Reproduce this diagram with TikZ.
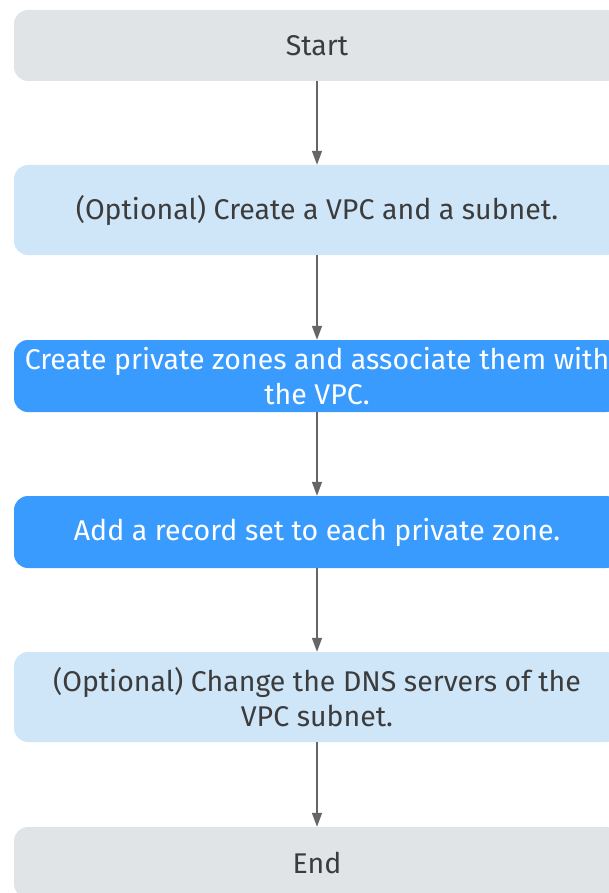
\documentclass[tikz,border=0pt]{standalone}
\usepackage{fontspec}
\setmainfont{Fira Sans}
\usetikzlibrary{arrows.meta}
\definecolor{grayfill}{HTML}{E1E4E6}
\definecolor{lightblue}{HTML}{CFE5F8}
\definecolor{bluefill}{HTML}{3A9BFF}
\definecolor{txt}{HTML}{3C3C3C}
\definecolor{arrowc}{HTML}{666666}
\tikzset{
  flowbox/.style={rounded corners=14pt, minimum width=606pt, inner sep=0pt, align=center,
    font=\fontsize{28.5}{35}\selectfont},
  graybox/.style={flowbox, fill=grayfill, text=txt},
  lbbox/.style={flowbox, fill=lightblue, text=txt},
  bbox/.style={flowbox, fill=bluefill, text=white},
  arr/.style={draw=arrowc, line width=1.5pt, -{Triangle[length=14pt,width=10pt]}}
}
\begin{document}
\begin{tikzpicture}[x=1pt,y=-1pt]
\useasboundingbox (0,0) rectangle (609,893);
\clip (0,0) rectangle (609,893);
\node[graybox, minimum height=71pt] (start) at (317,45.5) {Start};
\node[lbbox, minimum height=90pt] (vpc) at (317,210) {(Optional) Create a VPC and a subnet.};
\node[bbox, minimum height=72pt] (zone) at (317,376) {Create private zones and associate them with\\the VPC.};
\node[bbox, minimum height=72pt] (rec) at (317,532) {Add a record set to each private zone.};
\node[lbbox, minimum height=90pt] (dns) at (317,697) {(Optional) Change the DNS servers of the\\VPC subnet.};
\node[graybox, minimum height=71pt] (end) at (317,862.5) {End};
\draw[arr] (start.south) -- (vpc.north);
\draw[arr] (vpc.south) -- (zone.north);
\draw[arr] (zone.south) -- (rec.north);
\draw[arr] (rec.south) -- (dns.north);
\draw[arr] (dns.south) -- (end.north);
\end{tikzpicture}
\end{document}
